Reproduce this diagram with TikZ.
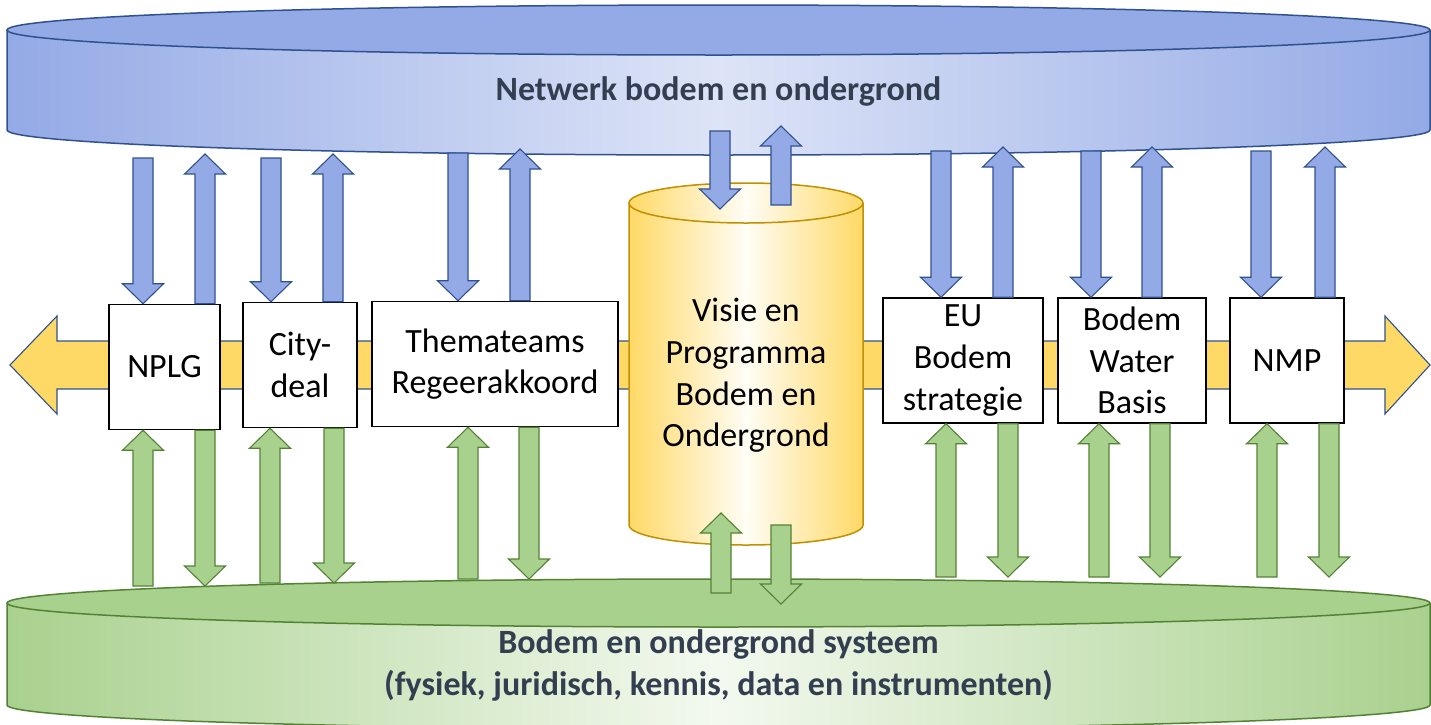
\documentclass[tikz,border=0pt]{standalone}
\usepackage{fontspec}
\setmainfont{Carlito}
\usetikzlibrary{calc}
\definecolor{netblue}{HTML}{94AAE6}
\definecolor{netlight}{HTML}{DDE4F7}
\definecolor{netline}{HTML}{2F528F}
\definecolor{grnfill}{HTML}{A9D18E}
\definecolor{grnlight}{HTML}{F3F9EF}
\definecolor{grnline}{HTML}{548235}
\definecolor{ylwfill}{HTML}{FFD966}
\definecolor{ylwlight}{HTML}{FFFDF5}
\definecolor{ylwline}{HTML}{BF9000}
\definecolor{titletext}{HTML}{333F50}
\tikzset{
  box/.style={draw=black, line width=0.75pt, fill=white, inner sep=0pt,
    minimum height=62.5pt, align=center, font=\fontsize{17}{20.8}\selectfont},
  bluearr/.style={draw=netline, fill=netblue, line width=0.55pt},
  grnarr/.style={draw=grnline, fill=grnfill, line width=0.55pt},
  title/.style={font=\fontsize{17}{21}\selectfont\bfseries, text=titletext, align=center}
}
% block arrow from #2 to the tip #3
\newcommand{\barrow}[3]{%
  \draw[#1] let \p1=#2, \p2=#3, \n1={sign(\y2-\y1)} in
    ({\x1-5pt},\y1) -- ({\x1-5pt},{\y2-\n1*10pt}) -- ({\x1-10.25pt},{\y2-\n1*10pt})
    -- (\x1,\y2) -- ({\x1+10.25pt},{\y2-\n1*10pt}) -- ({\x1+5pt},{\y2-\n1*10pt})
    -- ({\x1+5pt},\y1) -- cycle;}
\begin{document}
\begin{tikzpicture}[x=0.5pt, y=-0.5pt]
    \useasboundingbox (0,0) rectangle (1431,724);
    \clip (0,0) rectangle (1431,724);
    % netwerk
    \shade[left color=netblue, right color=netblue, middle color=netlight]
        (7,30) -- (7,130) arc[start angle=180, end angle=0, x radius=711.5, y radius=25] -- (1430,30) -- cycle;
    \draw[netline, line width=0.75pt] (7,30) -- (7,130) arc[start angle=180, end angle=0, x radius=711.5, y radius=25] -- (1430,30);
    \filldraw[fill=netblue, draw=netline, line width=0.75pt] (718.5,30) ellipse[x radius=711.5, y radius=25];
    \node[title] (nettitle) at (718.5,91) {Netwerk bodem en ondergrond};
    % systeem
    \shade[left color=grnfill, right color=grnfill, middle color=grnlight]
        (7,603) -- (7,705) arc[start angle=180, end angle=0, x radius=711.5, y radius=24] -- (1430,603) -- cycle;
    \draw[grnline, line width=0.75pt] (7,603) -- (7,705) arc[start angle=180, end angle=0, x radius=711.5, y radius=24] -- (1430,603);
    \filldraw[fill=grnfill, draw=grnline, line width=0.75pt] (718.5,603) ellipse[x radius=711.5, y radius=24];
    \node[title] (systitle) at (718.5,665) {Bodem en ondergrond systeem\\(fysiek, juridisch, kennis, data en instrumenten)};
    % horizontal arrow
    \filldraw[fill=ylwfill, draw=netline, line width=0.55pt] (10,365) -- (57,316) -- (57,341) -- (1385,341) -- (1385,316)
        -- (1430,365) -- (1385,414) -- (1385,389) -- (57,389) -- (57,414) -- cycle;
    % boxes
    \node[box, minimum width=55.5pt] (nplg) at (164.5,367) {NPLG};
    \node[box, minimum width=57pt] (city) at (300,365) {City-\\deal};
    \node[box, minimum width=123pt] (thema) at (495,364) {Themateams\\Regeerakkoord};
    \node[box, minimum width=80pt] (eu) at (963,360.5) {EU\\Bodem\\strategie};
    \node[box, minimum width=74pt] (bwb) at (1132,360.5) {Bodem\\Water\\Basis};
    \node[box, minimum width=57pt] (nmp) at (1287,360.5) {NMP};
    % visie cylinder
    \shade[left color=ylwfill, right color=ylwfill, middle color=ylwlight]
        (629,203) -- (629,525) arc[start angle=180, end angle=0, x radius=117, y radius=20] -- (863,203) -- cycle;
    \draw[ylwline, line width=0.75pt] (629,203) -- (629,525) arc[start angle=180, end angle=0, x radius=117, y radius=20] -- (863,203);
    \shade[left color=ylwfill, right color=ylwfill, middle color=ylwlight] (746,203) ellipse[x radius=117, y radius=20];
    \draw[ylwline, line width=0.75pt] (746,203) ellipse[x radius=117, y radius=20];
    \node[align=center, font=\fontsize{17}{20.8}\selectfont] (visie) at (746,375.5) {Visie en\\Programma\\Bodem en\\Ondergrond};
    % arrows
    \foreach \b/\xd/\xu/\yt in {nplg/143/205/158, city/271/333/158, thema/458/520/153, eu/941/1003/151, bwb/1091/1152/151, nmp/1261/1325/151} {
        \barrow{bluearr}{(\xd,\yt)}{(\b.north -| \xd,0)}
        \barrow{bluearr}{(\b.north -| \xu,0)}{(\xu,\yt-4)}
    }
    \foreach \b/\xu/\xd/\yb in {nplg/143/205/586, city/270/334/583, thema/468/529/579, eu/946/1008/577, bwb/1099/1160/577, nmp/1267/1329/577} {
        \barrow{grnarr}{(\xu,\yb)}{(\b.south -| \xu,0)}
        \barrow{grnarr}{(\b.south -| \xd,0)}{(\xd,\yb)}
    }
    \barrow{bluearr}{(720,131)}{(720,209)}
    \barrow{bluearr}{(781,205)}{(781,126)}
    \barrow{grnarr}{(721,593)}{(721,513)}
    \barrow{grnarr}{(781,525)}{(781,604)}
\end{tikzpicture}
\end{document}
